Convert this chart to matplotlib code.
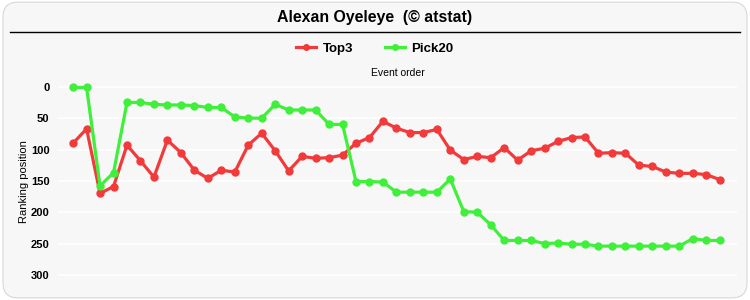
import matplotlib.pyplot as plt
from matplotlib.patches import FancyBboxPatch
from matplotlib.lines import Line2D

# Ranking positions per event
top3 = [90, 67, 170, 159, 93, 118, 144, 85, 105, 133,
        146, 133, 136, 93, 74, 102, 134, 111, 114, 113,
        109, 90, 81, 55, 66, 73, 73, 68, 101, 116,
        111, 113, 97, 117, 102, 98, 87, 81, 80, 106,
        105, 106, 125, 127, 136, 138, 138, 140, 148]
pick20 = [1, 1, 158, 137, 25, 25, 28, 29, 29, 30,
          33, 33, 48, 50, 50, 28, 37, 37, 37, 60,
          60, 151, 151, 152, 168, 168, 168, 168, 147, 199,
          200, 220, 245, 245, 245, 250, 249, 251, 251, 254,
          254, 254, 254, 254, 254, 254, 242, 245, 245]
yticks = [0, 50, 100, 150, 200, 250, 300]

red = '#f23a3a'
green = '#3ef03a'
bg = '#f7f7f7'

fig = plt.figure(figsize=(7.5, 3), dpi=100, facecolor='white')

# rounded panel behind everything
panel = FancyBboxPatch((0.004, 0.007), 0.992, 0.986, boxstyle='round,pad=0,rounding_size=0.02',
                       transform=fig.transFigure, facecolor=bg, edgecolor='#d8d8d8', lw=0.8,
                       mutation_aspect=2.5, zorder=-10)
fig.patches.append(panel)

fig.text(0.5, 0.943, 'Alexan Oyeleye  (© atstat)', ha='center', va='center',
         fontsize=11.4, fontweight='bold', family='Liberation Sans')
fig.add_artist(Line2D([0.013, 0.987], [0.893, 0.893], color='black', lw=1.0,
                      transform=fig.transFigure))

ax = fig.add_axes([0.077, 0.05, 0.906, 0.69])
ax.set_zorder(1)
ax.set_facecolor(bg)
x = list(range(len(top3)))
ax.plot(x, top3, color=red, lw=2.3, marker='o', ms=5, label='Top3')
ax.plot(x, pick20, color=green, lw=2.3, marker='o', ms=5, label='Pick20')

ax.set_xlim(-1.14, 49.3)
ax.set_ylim(316, -14)
ax.set_yticks(yticks)
ax.set_yticklabels([str(v) for v in yticks], fontweight='bold', fontsize=8, family='Liberation Sans')
ax.set_xticks([])
ax.tick_params(axis='y', length=0, pad=6)
ax.grid(axis='y', color='white', lw=1.2)
ax.set_axisbelow(True)
for s in ax.spines.values():
    s.set_visible(False)
ax.set_ylabel('Ranking position', fontsize=8, family='Liberation Sans', labelpad=1)
ax.set_title('Event order', fontsize=7.5, family='Liberation Sans', pad=0)

leg = fig.legend(loc='center', bbox_to_anchor=(0.5, 0.838), ncol=2, frameon=False,
                 prop={'family': 'Liberation Sans', 'weight': 'bold', 'size': 9.5},
                 handlelength=1.5, columnspacing=2.4, handletextpad=0.5, markerscale=0.8)

fig.savefig('out.png', dpi=100, facecolor=fig.get_facecolor())
